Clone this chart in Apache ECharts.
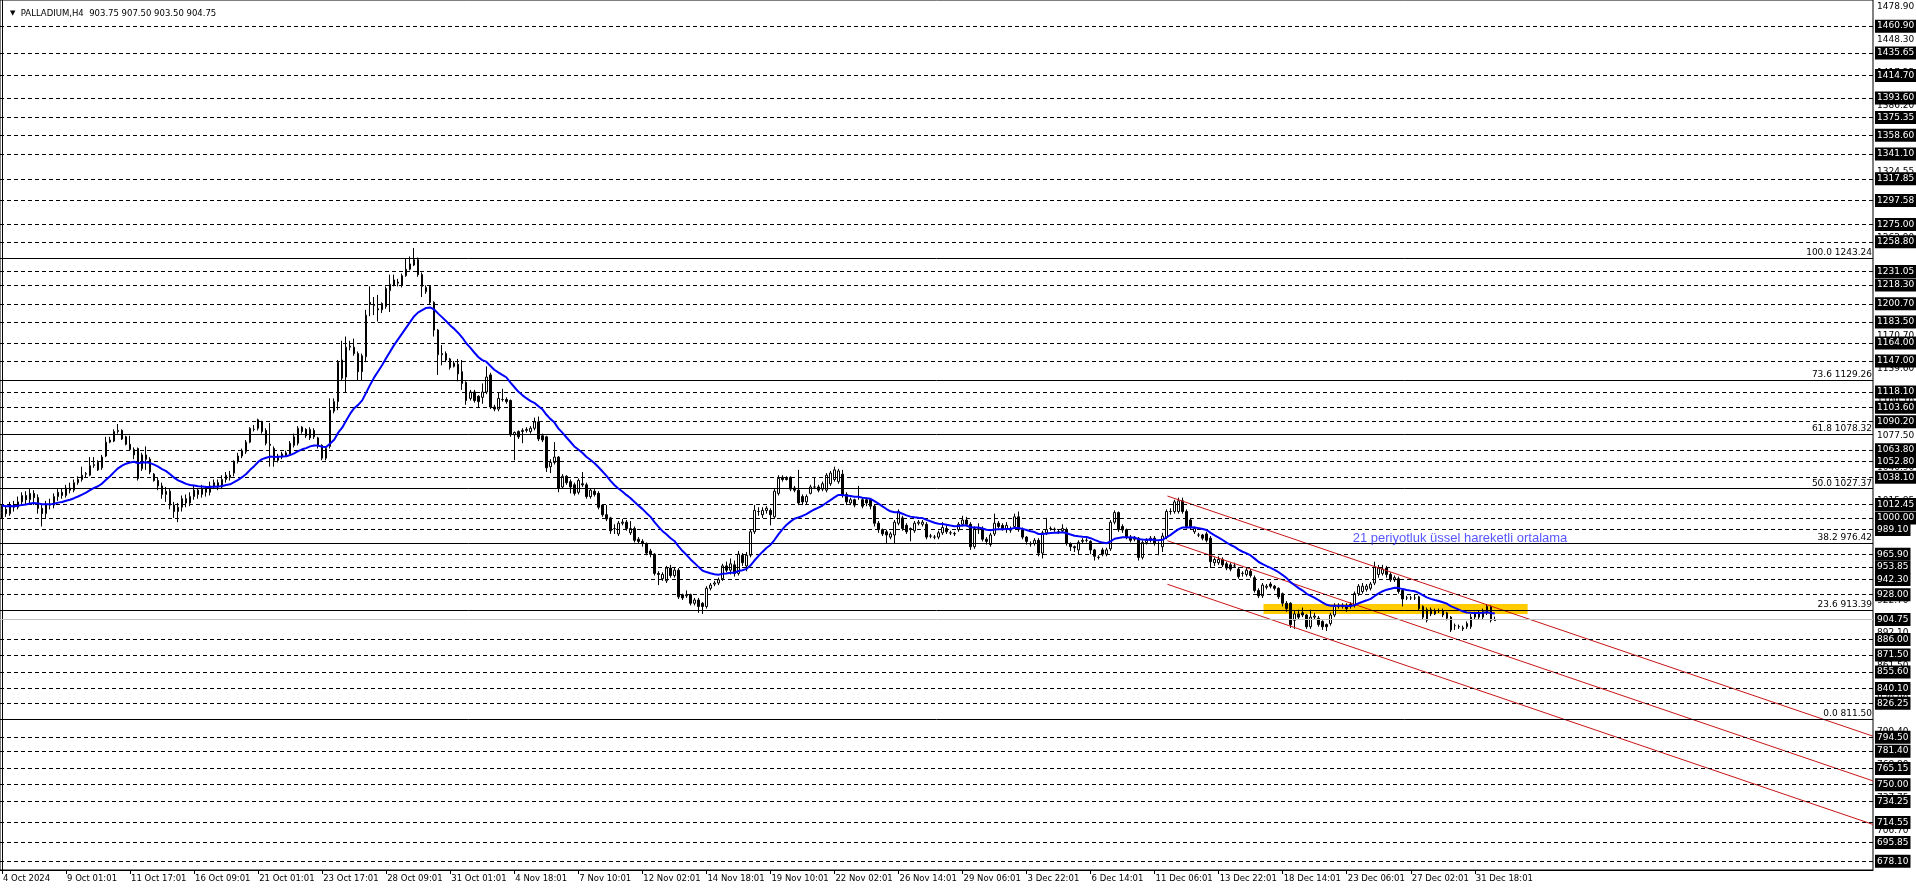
<!DOCTYPE html>
<html><head><meta charset="utf-8">
<script src="https://cdn.jsdelivr.net/npm/echarts@6/dist/echarts.min.js"></script>
<style>html,body{margin:0;padding:0;background:#fff}#c{width:1916px;height:888px}</style>
</head><body><div id="c"></div>
<script>
const tickLabels = ["4 Oct 2024","9 Oct 01:01","11 Oct 17:01","16 Oct 09:01","21 Oct 01:01","23 Oct 17:01","28 Oct 09:01","31 Oct 01:01","4 Nov 18:01","7 Nov 10:01","12 Nov 02:01","14 Nov 18:01","19 Nov 10:01","22 Nov 02:01","26 Nov 14:01","29 Nov 06:01","3 Dec 22:01","6 Dec 14:01","11 Dec 06:01","13 Dec 22:01","18 Dec 14:01","23 Dec 06:01","27 Dec 02:01","31 Dec 18:01"];

const open = [
1005,1008,1004,1012,1010,1015,1021,1017,1023,1019,
1009,1004,1013,1012,1020,1024,1021,1028,1026,1033,
1036,1041,1040,1049,1052,1047,1058,1071,1072,1081,
1082,1076,1069,1064,1065,1046,1059,1055,1041,1035,
1030,1022,1025,1012,1006,1010,1018,1014,1020,1026,
1022,1027,1024,1030,1033,1029,1036,1040,1042,1053,
1058,1062,1071,1083,1084,1090,1082,1069,1065,1054,
1057,1059,1060,1068,1070,1085,1083,1075,1082,1075,
1068,1056,1067,1100,1109,1148,1132,1160,1160,1154,
1137,1151,1202,1199,1196,1195,1198,1213,1218,1220,
1218,1227,1233,1237,1242,1228,1212,1217,1202,1176,
1154,1154,1149,1142,1144,1137,1127,1112,1118,1114,
1113,1118,1134,1104,1102,1111,1111,1110,1078,1081,
1081,1082,1081,1084,1090,1077,1076,1048,1052,1057,
1029,1039,1034,1031,1024,1032,1031,1020,1025,1023,
1012,1003,1000,990,985,995,996,986,990,980,
978,976,969,966,948,943,941,953,946,951,
928,927,928,920,923,920,917,934,938,939,
943,955,951,956,948,965,955,965,987,1006,
1003,1007,1007,1001,1023,1038,1037,1038,1028,1026,
1020,1015,1023,1029,1029,1027,1026,1032,1036,1034,
1041,1022,1014,1017,1020,1017,1017,1017,1011,995,
989,987,982,984,995,1000,993,990,988,995,
994,994,983,982,982,986,990,986,985,989,
994,998,994,973,989,990,980,975,985,995,
993,989,990,992,1001,989,982,976,976,979,
967,986,990,989,987,988,989,976,973,970,
978,979,978,970,963,970,966,971,996,1005,
992,989,982,980,981,963,977,979,981,976,
973,982,1006,1006,1006,1016,1006,998,987,984,
984,985,981,958,958,961,957,956,955,952,
948,947,950,944,932,927,935,938,936,934,
929,920,920,904,910,911,909,898,907,906,
903,900,901,909,917,917,918,919,918,929,
931,933,934,939,947,948,953,947,942,943,
932,925,925,925,926,917,914,914,910,913,
913,911,907,899,898,897,898,898,907,907,
907,911,917,903.75];

const high = [
1012,1011,1015,1016,1020,1024,1025,1027,1026,1022,
1012,1016,1018,1023,1027,1028,1031,1033,1036,1039,
1048,1043,1057,1057,1054,1059,1076,1076,1083,1088,
1083,1077,1077,1066,1066,1061,1067,1057,1042,1038,
1033,1029,1027,1015,1014,1021,1022,1024,1030,1028,
1031,1030,1034,1036,1036,1040,1043,1044,1054,1061,
1065,1073,1085,1087,1093,1091,1084,1089,1067,1060,
1062,1063,1072,1079,1086,1086,1084,1085,1084,1076,
1069,1067,1112,1112,1148,1166,1170,1166,1168,1156,
1154,1195,1217,1207,1209,1202,1217,1228,1228,1224,
1229,1243,1245,1253,1244,1230,1218,1218,1203,1177,
1162,1156,1150,1147,1149,1148,1128,1120,1120,1115,
1126,1142,1136,1106,1118,1121,1113,1111,1081,1082,
1084,1085,1086,1094,1095,1079,1077,1055,1071,1058,
1041,1040,1036,1033,1037,1043,1033,1028,1027,1025,
1013,1012,1001,994,997,999,998,997,992,982,
980,977,971,967,950,949,955,956,954,953,
929,932,929,925,925,921,936,939,941,944,
957,959,962,960,969,967,968,989,1012,1010,
1010,1011,1009,1028,1040,1040,1039,1039,1030,1045,
1022,1022,1031,1038,1031,1034,1042,1044,1048,1046,
1045,1024,1019,1018,1030,1019,1019,1018,1013,997,
990,989,987,998,1008,1002,995,991,997,998,
998,996,985,984,988,996,993,988,987,996,
1002,1001,996,992,995,992,982,986,1004,997,
995,996,992,1004,1006,991,983,978,981,981,
988,1000,992,991,989,994,991,977,974,979,
981,981,979,971,965,972,972,998,1007,1006,
994,990,984,983,982,979,981,983,983,978,
986,1008,1009,1017,1019,1019,1008,1000,992,986,
985,987,983,963,964,963,959,958,958,954,
950,953,952,946,934,939,938,940,937,935,
930,922,921,913,914,916,910,914,911,908,
904,901,911,920,920,920,920,921,931,938,
939,938,940,959,956,956,955,949,946,945,
933,927,927,928,927,918,916,916,915,915,
915,912,908,901,900,899,903,910,912,913,
915,919,918,907.5];

const low = [
1000,1001,1002,1006,1008,1012,1013,1014,1012,1004,
992,1000,1008,1009,1016,1018,1019,1023,1024,1031,
1034,1038,1039,1047,1044,1045,1057,1070,1071,1079,
1073,1068,1063,1055,1035,1044,1045,1041,1034,1026,
1018,1015,1008,1000,996,1006,1010,1011,1017,1018,
1019,1020,1021,1027,1026,1027,1033,1035,1039,1051,
1056,1060,1070,1081,1082,1079,1068,1048,1048,1052,
1055,1057,1058,1066,1068,1079,1075,1073,1074,1065,
1054,1054,1065,1098,1101,1129,1118,1157,1152,1129,
1129,1146,1189,1190,1184,1192,1196,1193,1217,1217,
1216,1226,1232,1236,1226,1207,1210,1200,1170,1134,
1143,1146,1139,1141,1128,1120,1106,1110,1108,1104,
1107,1116,1102,1100,1100,1109,1107,1076,1054,1074,
1070,1080,1079,1082,1072,1071,1043,1042,1050,1024,
1028,1031,1023,1021,1022,1029,1018,1018,1020,1008,
1001,997,985,985,983,993,988,984,977,976,
973,965,963,946,937,941,939,944,944,924,
923,925,918,918,911,910,915,932,936,937,
941,949,947,945,946,955,950,963,985,1002,
1000,1004,993,999,1021,1034,1035,1025,1024,1012,
1012,1013,1022,1027,1024,1025,1024,1030,1034,1032,
1019,1012,1012,1010,1017,1009,1011,1008,992,986,
983,976,980,976,993,988,985,978,986,993,
992,980,981,980,980,984,985,984,983,987,
992,992,970,971,985,978,975,973,983,990,
988,986,986,990,987,980,975,973,974,964,
962,984,988,987,985,986,974,969,968,966,
976,977,966,960,961,964,964,969,994,987,
986,980,977,978,960,961,975,977,974,965,
968,980,1003,1004,1004,1004,990,989,985,982,
979,977,953,955,956,954,951,950,953,943,
945,945,944,930,925,925,933,934,932,924,
917,912,897,896,905,907,896,896,905,898,
895,894,899,907,915,915,912,915,916,927,
929,931,932,937,944,946,944,940,940,929,
917,923,923,923,913,905,902,908,909,911,
907,904,893,895,896,894,896,896,905,905,
905,909,902,903.5];

const close = [
1008,1004,1012,1010,1015,1021,1017,1023,1019,1009,
1004,1013,1012,1020,1024,1021,1028,1026,1033,1036,
1040,1041.5,1049,1050,1045,1057,1071,1073,1081,1082,
1074,1069,1064,1059,1037,1059,1055,1043,1035,1030,
1022,1025,1012,1006,1010,1018,1014,1020,1026,1022,
1027,1024,1030,1033,1029,1036,1040,1038,1053,1058,
1063,1071,1084,1083,1092,1081,1070,1068,1054,1058,
1060,1061,1070,1076,1084,1081,1077,1083,1076,1067,
1056,1065,1101,1109,1146,1131,1160,1161,1154,1137,
1152,1190,1200,1200,1195,1201,1215,1219,1223,1221,
1227,1233,1238,1242,1228,1217,1216,1202,1176,1153,
1153,1148,1141,1145,1135,1126,1110,1118,1110,1109,
1118,1132,1104,1102,1112,1111,1109,1078,1080,1076,
1082,1083,1084,1090,1074,1073,1047,1052,1057,1028,
1039,1033,1029,1023,1035,1031,1020,1026,1022,1010,
1003,999,988,990,995,996,990,990,979,978,
976,967,966,948,947,947,953,946,951,926,
925,928,920,923,917,917,934,937,939,942,
955,951,957,948,966,958,965,987,1007,1006,
1007,1009,1003,1025,1037,1036,1036,1027,1026,1014,
1015,1020,1029,1029,1026,1032,1040,1042,1045,1044,
1021,1015,1017,1012,1020,1011,1014,1011,995,989,
985,984,985,996,1006,990,987,989,995,996,
996,982,983,982,986,991,987,986,985.5,994,
998,994,973,990,990,980,978,984,995,992,
990,993,988.5,1001,989,982,978,975.5,979,967,
986,989,990,989.5,987,990,976,973,972,977,
979,979,970,964,963,966,970,996,1005,989,
988.7,982,979,981,963,977,979,981,976,976,
983,1006,1006,1015,1016,1006,992,992,990,984,
981,979,959,961,961,956,953,952,955,945,
948,951,946,932,927,937,936,936,934,926,
920,915,900,910,907,909,898,907,908,900,
898,898,909,917,918,917,915,917,929,936,
936,936,938,954,953,952,947,942,944,931,
924,925,925,925,915,907,904,910,913,913,
909,906,895,899,898,896,901,907,910,911,
912,917,904,904.75];

const levelLines = [1460.90,1435.65,1414.70,1393.60,1375.35,1358.60,1341.10,1317.85,1297.58,1275.00,1258.80,1231.05,1218.30,1200.70,1183.50,1164.00,1147.00,1118.10,1103.60,1090.20,1063.80,1052.80,1038.10,1012.45,1000.00,989.10,965.90,953.85,942.30,928.00,886.00,871.50,855.60,840.10,826.25,794.50,781.40,765.15,750.00,734.25,714.55,695.85,678.10];
const scaleLabels = [1478.90,1448.30,1417.25,1386.20,1355.60,1324.55,1293.95,1262.90,1232.30,1201.25,1170.70,1139.60,1109.10,1077.50,1046.90,1015.85,984.80,954.20,922.70,892.10,861.50,830.90,799.40,768.80,737.75,706.70,676.10];
const fibLevels = [100.0,73.6,61.8,50.0,38.2,23.6,0.0];
const fibPrices = [1243.24,1129.26,1078.32,1027.37,976.42,913.39,811.50];
const bidPrice = 904.75;
const headerText = "PALLADIUM,H4  903.75 907.50 903.50 904.75";
const channelTop = [[291.2,1020.5],[467.5,795.4]];
const channelMid = [[291.2,978.6],[467.5,753.5]];
const channelBot = [[291.2,937.8],[467.5,712.7]];
const zoneCorners = [[315.2,919.3],[381.2,910.0]];
const noteText = "21 periyotluk üssel hareketli ortalama";
const notePos = [337.5,981];
const emaPeriod = 21;
const emaSeed = 1012;

const SLOTS = 468;
const FONT = '"DejaVu Sans", sans-serif';
const slots = Array.from({length: SLOTS}, (_, i) => String(i));
const candles = close.map((c, i) => [open[i], c, low[i], high[i]]);
const kE = 2 / (emaPeriod + 1);
let e = emaSeed;
const ema = close.map(c => { e = c * kE + e * (1 - kE); return +e.toFixed(2); });
const tickShow = (idx) => idx % 16 === 0 && idx / 16 < tickLabels.length;

const chart = echarts.init(document.getElementById('c'));
const redLine = (pts) => ({
  type: 'line', xAxisIndex: 1, data: pts, showSymbol: false, symbol: 'none', silent: true,
  lineStyle: {color: '#c81414', width: 1}, z: 4
});
const boxLabel = {position: 'end', distance: 2, formatter: p => p.value.toFixed(2), color: '#fff',
  backgroundColor: '#000', padding: [2, 2, 1, 2], fontSize: 9, lineHeight: 10, fontFamily: FONT};

chart.setOption({
  animation: false,
  backgroundColor: '#ffffff',
  title: {
    text: '{t|▼}  ' + headerText, left: 5, top: 4,
    textStyle: {fontSize: 8.5, fontWeight: 'normal', color: '#000', fontFamily: FONT,
      rich: {t: {fontSize: 7, color: '#000', fontFamily: FONT}}}
  },
  grid: {left: 0, right: 43, top: 0, bottom: 18, show: true, borderColor: '#000', borderWidth: 1},
  xAxis: [{
    type: 'category', data: slots, boundaryGap: true,
    axisLine: {lineStyle: {color: '#000', width: 1}},
    axisTick: {show: true, alignWithLabel: true, interval: tickShow, length: 4, lineStyle: {color: '#000'}},
    axisLabel: {interval: tickShow, formatter: (v, i) => tickLabels[i / 16] || '', align: 'left',
      margin: 4, fontSize: 8.5, color: '#000', fontFamily: FONT, padding: [0, 0, 0, 1]},
    splitLine: {show: false}
  }, {
    type: 'value', min: -0.5, max: SLOTS - 0.5, show: false
  }],
  yAxis: {
    type: 'value', position: 'right', min: 670, max: 1485.4,
    axisLine: {show: true, lineStyle: {color: '#000'}},
    axisTick: {show: false}, axisLabel: {show: false}, splitLine: {show: false}
  },
  series: [
    {
      type: 'line', data: [], z: 1, silent: true,
      markLine: {silent: true, symbol: ['none', 'none'], lineStyle: {color: 'rgba(0,0,0,0)', width: 1},
        label: {position: 'end', distance: 4, formatter: p => p.value.toFixed(2), color: '#000',
          fontSize: 9, fontFamily: FONT},
        data: scaleLabels.map(v => ({yAxis: v}))}
    },
    {
      type: 'line', xAxisIndex: 1, data: [], z: 1, silent: true,
      markArea: {silent: true, itemStyle: {color: '#FFCC00'},
        data: [[{coord: zoneCorners[0]}, {coord: zoneCorners[1]}]]}
    },
    {
      type: 'line', data: [], z: 2, silent: true,
      markLine: {silent: true, symbol: ['none', 'none'],
        lineStyle: {type: [4, 3], color: '#000', width: 1},
        label: boxLabel,
        data: levelLines.map(v => ({yAxis: v}))}
    },
    {
      type: 'line', data: [], z: 2, silent: true,
      markLine: {silent: true, symbol: ['none', 'none'],
        lineStyle: {type: 'solid', color: '#000', width: 1},
        label: {position: 'insideEndTop', distance: 1, formatter: p => p.name, color: '#000',
          fontSize: 9, fontFamily: FONT},
        data: fibPrices.map((v, i) => ({yAxis: v, name: fibLevels[i].toFixed(1) + ' ' + v.toFixed(2)}))}
    },
    {
      type: 'line', data: [], z: 2, silent: true,
      markLine: {silent: true, symbol: ['none', 'none'],
        lineStyle: {type: 'solid', color: '#c0c0c0', width: 1},
        label: boxLabel,
        data: [{yAxis: bidPrice}]}
    },
    {
      type: 'candlestick', data: candles, barWidth: 2, z: 3, silent: true,
      itemStyle: {color: '#ffffff', color0: '#000000', borderColor: '#000000', borderColor0: '#000000', borderWidth: 1}
    },
    {
      type: 'line', data: ema, showSymbol: false, symbol: 'none', z: 5, silent: true,
      lineStyle: {color: '#0000ff', width: 2}
    },
    redLine(channelTop), redLine(channelMid), redLine(channelBot),
    {
      type: 'scatter', xAxisIndex: 1, data: [notePos], symbolSize: 0, z: 6, silent: true,
      label: {show: true, position: [0, 0], align: 'left', verticalAlign: 'middle',
        formatter: noteText, color: '#2a2aff', fontSize: 13, fontFamily: '"Liberation Sans", Arial, sans-serif'}
    }
  ]
});
</script>
</body></html>
